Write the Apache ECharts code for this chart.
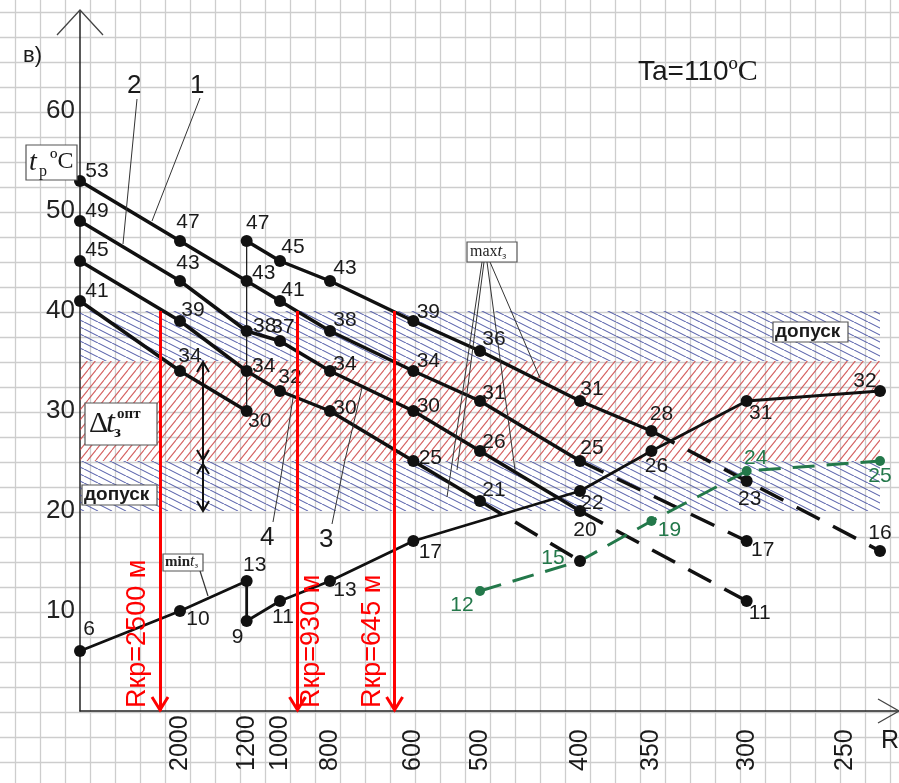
<!DOCTYPE html>
<html><head><meta charset="utf-8">
<script src="https://cdn.jsdelivr.net/npm/echarts@6/dist/echarts.min.js"></script>
<style>html,body{margin:0;padding:0;background:#fff}#c{width:899px;height:783px}</style>
</head><body><div id="c"></div>
<script>
(function(){
// ================= DATA =================
// x axis: radius R, m (tick labels); y axis: temperature t, °C
const tickR = [2000, 1200, 1000, 800, 600, 500, 400, 350, 300, 250];
const yTicks = [10, 20, 30, 40, 50, 60];

// curve 1
const c1R = [Infinity, 2000, 1200, 1000, 800, 600, 500, 400];
const c1T = [53, 47, 43, 41, 38, 34, 31, 25];
const c1DashR = [400, 300];
const c1DashT = [25, 17];
// curve 2
const c2R = [Infinity, 2000, 1200, 1000, 800, 600, 500, 400];
const c2T = [49, 43, 38, 37, 34, 30, 26, 20];
const c2DashR = [400, 300];
const c2DashT = [20, 11];
// curve 3
const c3R = [Infinity, 2000, 1200, 1000, 800, 600, 500];
const c3T = [45, 39, 34, 32, 30, 25, 21];
const c3DashR = [500, 400];
const c3DashT = [21, 15];
// curve 4
const c4R = [Infinity, 2000, 1200];
const c4T = [41, 34, 30];
// upper curve starting at R = 1200
const cAR = [1200, 1000, 800, 600, 500, 400, 350];
const cAT = [47, 45, 43, 39, 36, 31, 28];
const cADashR = [350, 300, 250];
const cADashT = [28, 23, 16];
// step at R = 1200
const stepR = [1200, 1200];
const stepT = [47, 30];
// min t_з curve
const minR = [Infinity, 2000, 1200, 1200, 1000, 800, 600, 400, 350, 300, 250];
const minT = [6, 10, 13, 9, 11, 13, 17, 22, 26, 31, 32];
// green dashed curve
const grR = [500, 400, 350, 300, 250];
const grT = [12, 15, 19, 24, 25];
// critical radii
const rkpR = [2500, 930, 645];
const rkpText = ['Rкр=2500 м', 'Rкр=930 м', 'Rкр=645 м'];
// bands
const tolLow = [20, 25];
const optBand = [25, 35];
const tolHigh = [35, 40];

// ================= STYLE =================
const FONT = "'Liberation Sans', Arial, sans-serif";
const SERIF = "'Liberation Serif', 'Times New Roman', serif";
const GREEN = '#23784a';
// label centre offsets (px) for each point
const c1Off = [[17,-10],[8,-19],[17,-8],[13,-11],[15,-11],[15,-10],[14,-8],[12,-13]];
const c1DOff = [null,[16,9]];
const c2Off = [[17,-10],[8,-18],[18,-5],[3,-14],[15,-7],[15,-5],[14,-9],[5,19]];
const c2DOff = [null,[13,12]];
const c3Off = [[17,-11],[13,-11],[17,-5],[10,-14],[15,-3],[17,-3],[14,-11]];
const c3DOff = [null,null];
const c4Off = [[17,-10],[10,-15],[13,10]];
const cAOff = [[11,-18],[13,-14],[15,-13],[15,-9],[14,-12],[12,-12],[10,-17]];
const cADOff = [null,[3,18],[0,-18]];
const minOff = [[9,-22],[18,8],[8,-16],[-9,16],[3,16],[15,9],[17,11],[12,12],[5,15],[14,12],[-15,-10]];
const grOff = [[-18,14],[-27,-3],[18,9],[9,-13],[0,15]];

// x position on the axis: reciprocal radius, linear between ticks
function toU(R) {
  if (!isFinite(R)) return 0;
  const us = tickR.map(r => 1e4 / r);
  for (let i = 0; i < tickR.length - 1; i++) {
    const a = tickR[i], b = tickR[i + 1];
    if (R <= a && R >= b) { const f = (a - R) / (a - b); return us[i] + f * (us[i + 1] - us[i]); }
  }
  return 1e4 / R;
}

function hatch(w, h, color, dir) {
  const c = document.createElement('canvas');
  c.width = w; c.height = h;
  const g = c.getContext('2d');
  g.strokeStyle = color; g.lineWidth = 1.1;
  g.beginPath();
  for (let k = -1; k <= 1; k++) {
    if (dir === '/') { g.moveTo(k * w, h); g.lineTo(k * w + w, 0); }
    else { g.moveTo(k * w, 0); g.lineTo(k * w + w, h); }
  }
  g.stroke();
  return c;
}
const bluePat = { image: hatch(14, 7, 'rgba(65,75,160,0.85)', '\\'), repeat: 'repeat' };
const redPat = { image: hatch(8, 10, 'rgba(205,70,70,0.85)', '/'), repeat: 'repeat' };

function lineSeries(Rs, Ts, offs, opt) {
  opt = opt || {};
  const color = opt.color || '#111';
  return {
    type: 'line', xAxisIndex: 0, yAxisIndex: 0, z: opt.z || 3, silent: true, animation: false,
    data: Rs.map((r, i) => {
      const item = { value: [toU(r), Ts[i]] };
      if (opt.skipFirst && i === 0) { item.symbol = 'none'; }
      if (offs && offs[i]) item.label = { show: true, offset: offs[i] };
      else item.label = { show: false };
      return item;
    }),
    symbol: opt.noSymbol ? 'none' : 'circle', symbolSize: opt.size || 12, showAllSymbol: true,
    lineStyle: { color, width: opt.width || 3.5, type: opt.dash ? opt.dash : 'solid' },
    itemStyle: { color },
    label: { show: true, position: 'inside', formatter: p => String(p.value[1]), fontSize: 21,
             fontFamily: FONT, color: opt.labelColor || '#1a1a1a' }
  };
}

const DASH = [26, 15];
const series = [
  lineSeries(stepR, stepT, null, { width: 1.2, noSymbol: true }),
  lineSeries(c1R, c1T, c1Off),
  lineSeries(c1DashR, c1DashT, c1DOff, { dash: DASH, skipFirst: true }),
  lineSeries(c2R, c2T, c2Off),
  lineSeries(c2DashR, c2DashT, c2DOff, { dash: DASH, skipFirst: true }),
  lineSeries(c3R, c3T, c3Off),
  lineSeries(c4R, c4T, c4Off),
  lineSeries(cAR, cAT, cAOff),
  lineSeries(cADashR, cADashT, cADOff, { dash: DASH, skipFirst: true }),
  lineSeries(grR, grT, grOff, { color: GREEN, labelColor: GREEN, dash: [22, 12], width: 3, size: 10, z: 3 }),
  lineSeries(c3DashR, c3DashT, c3DOff, { dash: DASH, skipFirst: true, z: 4 }),
  lineSeries(minR, minT, minOff, { width: 2.8, size: 12 }),
  { // hatched bands
    type: 'line', xAxisIndex: 0, yAxisIndex: 0, data: [], z: 5, silent: true,
    markArea: { silent: true, label: { show: false },
      data: [
        [{ xAxis: 0, yAxis: tolHigh[0], itemStyle: { color: bluePat } }, { xAxis: toU(250), yAxis: tolHigh[1] }],
        [{ xAxis: 0, yAxis: optBand[0], itemStyle: { color: redPat } }, { xAxis: toU(250), yAxis: optBand[1] }],
        [{ xAxis: 0, yAxis: tolLow[0], itemStyle: { color: bluePat } }, { xAxis: toU(250), yAxis: tolLow[1] }]
      ] }
  },
  { // critical radii
    type: 'line', xAxisIndex: 0, yAxisIndex: 0, data: [], z: 6, silent: true,
    markLine: { silent: true, symbol: ['none', 'none'], label: { show: false },
      lineStyle: { color: '#ff0000', width: 3, type: 'solid' },
      data: rkpR.map(r => [{ coord: [toU(r), 40] }, { coord: [toU(r), 0] }]) }
  }
];

const chart = echarts.init(document.getElementById('c'), null, { renderer: 'canvas' });
const option = {
  animation: false,
  backgroundColor: '#ffffff',
  grid: [
    { left: 80, top: 11, width: 820, height: 700, outerBoundsMode: 'none', containLabel: false },
    { left: -10, top: -13, width: 925, height: 800, outerBoundsMode: 'none', containLabel: false }
  ],
  xAxis: [
    { type: 'value', gridIndex: 0, min: 0, max: 41, splitLine: { show: false },
      axisLine: { show: true, onZero: true, lineStyle: { color: '#222', width: 1.5 } },
      axisTick: { show: false },
      axisLabel: { show: true, customValues: tickR.map(toU), rotate: 90, align: 'left', margin: 60,
        fontSize: 25, fontFamily: FONT, color: '#1a1a1a',
        formatter: v => {
          let best = 0;
          tickR.forEach((r, i) => { if (Math.abs(toU(r) - v) < Math.abs(toU(tickR[best]) - v)) best = i; });
          const r = tickR[best];
          return r === 250 ? '{s|' + r + '}' : String(r);
        },
        rich: { s: { fontSize: 25, fontFamily: FONT, color: '#1a1a1a', padding: [0, 0, 70, 0] } } } },
    { type: 'value', gridIndex: 1, min: 0, max: 37, interval: 1,
      axisLine: { show: false }, axisTick: { show: false }, axisLabel: { show: false },
      splitLine: { show: true, lineStyle: { color: '#cdcdcd', width: 1.3 } } }
  ],
  yAxis: [
    { type: 'value', gridIndex: 0, min: 0, max: 70, splitLine: { show: false },
      axisLine: { show: true, onZero: true, lineStyle: { color: '#222', width: 1.5 } },
      axisTick: { show: false },
      axisLabel: { show: true, customValues: yTicks, fontSize: 26, fontFamily: FONT, color: '#222', margin: 5 } },
    { type: 'value', gridIndex: 1, min: 0, max: 32, interval: 1,
      axisLine: { show: false }, axisTick: { show: false }, axisLabel: { show: false },
      splitLine: { show: true, lineStyle: { color: '#cdcdcd', width: 1.3 } } }
  ],
  series
};
chart.setOption(option);

// ---------- annotations ----------
const P = (R, t) => chart.convertToPixel({ xAxisIndex: 0, yAxisIndex: 0 }, [toU(R), t]);
const G = [];
const txt = (x, y, text, o) => G.push(Object.assign({ type: 'text', x, y, z: 20,
  style: Object.assign({ text, fontSize: 26, fontFamily: FONT, fill: '#1a1a1a', align: 'left', verticalAlign: 'middle' }, o || {}) }));
const pl = (pts, stroke, w, z) => G.push({ type: 'polyline', z: z || 20, shape: { points: pts }, style: { stroke: stroke || '#333', lineWidth: w || 1, fill: null } });
const box = (x, y, w, h) => G.push({ type: 'rect', z: 19, shape: { x, y, width: w, height: h }, style: { fill: '#fff', stroke: '#555', lineWidth: 1.2 } });

// axis arrows and names
const yTop = P(Infinity, 70);
pl([[yTop[0] - 23, yTop[1] + 24], [yTop[0], yTop[1] - 1], [yTop[0] + 23, yTop[1] + 24]], '#444', 1.3);
const o0 = P(Infinity, 0);
pl([[878, o0[1] - 12], [899, o0[1]], [878, o0[1] + 12]], '#444', 1.3);
txt(881, 741, 'R, м', { fontSize: 25 });
txt(23, 56, 'в)', { fontSize: 22 });
txt(190, 86, '1', { fontSize: 26 });
txt(127, 86, '2', { fontSize: 26 });
pl([[200, 98], [152, 221]], '#333', 1);
pl([[137, 99], [123, 244]], '#333', 1);
txt(260, 538, '4', { fontSize: 26 });
txt(319, 540, '3', { fontSize: 26 });
pl([[273, 522], [282, 470], [293, 398]], '#333', 1);
pl([[332, 524], [345, 460], [362, 388]], '#333', 1);
// title
G.push({ type: 'text', x: 638, y: 72, z: 20, style: { text: '{a|Ta=110}{b|ºC}', verticalAlign: 'middle',
  rich: { a: { fontSize: 28, fontFamily: FONT, fill: '#1a1a1a' }, b: { fontSize: 30, fontFamily: SERIF, fill: '#1a1a1a' } } } });
// t_p °C box
box(26, 145, 51, 35);
txt(29, 163, 't', { fontSize: 28, fontFamily: SERIF, fontStyle: 'italic' });
txt(39, 172, 'р', { fontSize: 16, fontFamily: SERIF });
txt(50, 162, 'ºC', { fontSize: 24, fontFamily: SERIF });
// Δt box
box(85, 403, 72, 42);
txt(89, 424, 'Δ', { fontSize: 30, fontFamily: SERIF });
txt(106, 424, 't', { fontSize: 32, fontFamily: SERIF, fontStyle: 'italic' });
txt(117, 414, 'опт', { fontSize: 15, fontFamily: SERIF, fontWeight: 'bold' });
txt(114, 433, 'з', { fontSize: 17, fontFamily: SERIF, fontWeight: 'bold' });
// допуск boxes
box(82, 485, 75, 20);
txt(84, 495, 'допуск', { fontSize: 19, fontWeight: 'bold' });
box(773, 322, 75, 20);
txt(775, 332, 'допуск', { fontSize: 19, fontWeight: 'bold' });
// double arrows (optimal band / tolerance)
pl([[203, 364], [203, 510]], '#111', 2);
const chev = (x, y, d) => pl([[x - 6, y - 10 * d], [x, y], [x + 6, y - 10 * d]], '#111', 2);
chev(203, 362, -1); chev(203, 460, 1); chev(203, 464, -1); chev(203, 511, 1);
// max t_з
box(467, 242, 50, 20);
G.push({ type: 'text', x: 470, y: 252, z: 20, style: { text: '{a|max}{b|t}{c|з}', verticalAlign: 'middle',
  rich: { a: { fontSize: 16, fontFamily: SERIF, fill: '#222' }, b: { fontSize: 17, fontFamily: SERIF, fontStyle: 'italic', fill: '#222' },
          c: { fontSize: 10, fontFamily: SERIF, fill: '#222', padding: [8, 0, 0, 0] } } } });
pl([[482, 262], [447, 497]], '#333', 1);
pl([[484, 262], [457, 470]], '#333', 1);
pl([[487, 262], [515, 470]], '#333', 1);
pl([[490, 262], [540, 378]], '#333', 1);
// min t_з
box(163, 554, 40, 17);
G.push({ type: 'text', x: 165, y: 562, z: 20, style: { text: '{a|min}{b|t}{c|з}', verticalAlign: 'middle',
  rich: { a: { fontSize: 15, fontFamily: SERIF, fontWeight: 'bold', fill: '#222' }, b: { fontSize: 16, fontFamily: SERIF, fontStyle: 'italic', fill: '#222' },
          c: { fontSize: 9, fontFamily: SERIF, fill: '#222', padding: [8, 0, 0, 0] } } } });
pl([[200, 571], [208, 596]], '#333', 1.2);
// critical radius arrowheads and labels
const sides = [-22, 14, -22];
rkpR.forEach((r, i) => {
  const b = P(r, 0);
  pl([[b[0] - 8, b[1] - 14], [b[0], b[1] - 1], [b[0] + 8, b[1] - 14]], '#ff0000', 3, 21);
  G.push({ type: 'text', x: b[0] + sides[i], y: b[1] - 3, rotation: Math.PI / 2, z: 21,
    style: { text: rkpText[i], fontSize: 27, fontFamily: FONT, fill: '#ff0000', align: 'left', verticalAlign: 'middle' } });
});
chart.setOption({ graphic: { elements: G } });
})();
</script></body></html>
